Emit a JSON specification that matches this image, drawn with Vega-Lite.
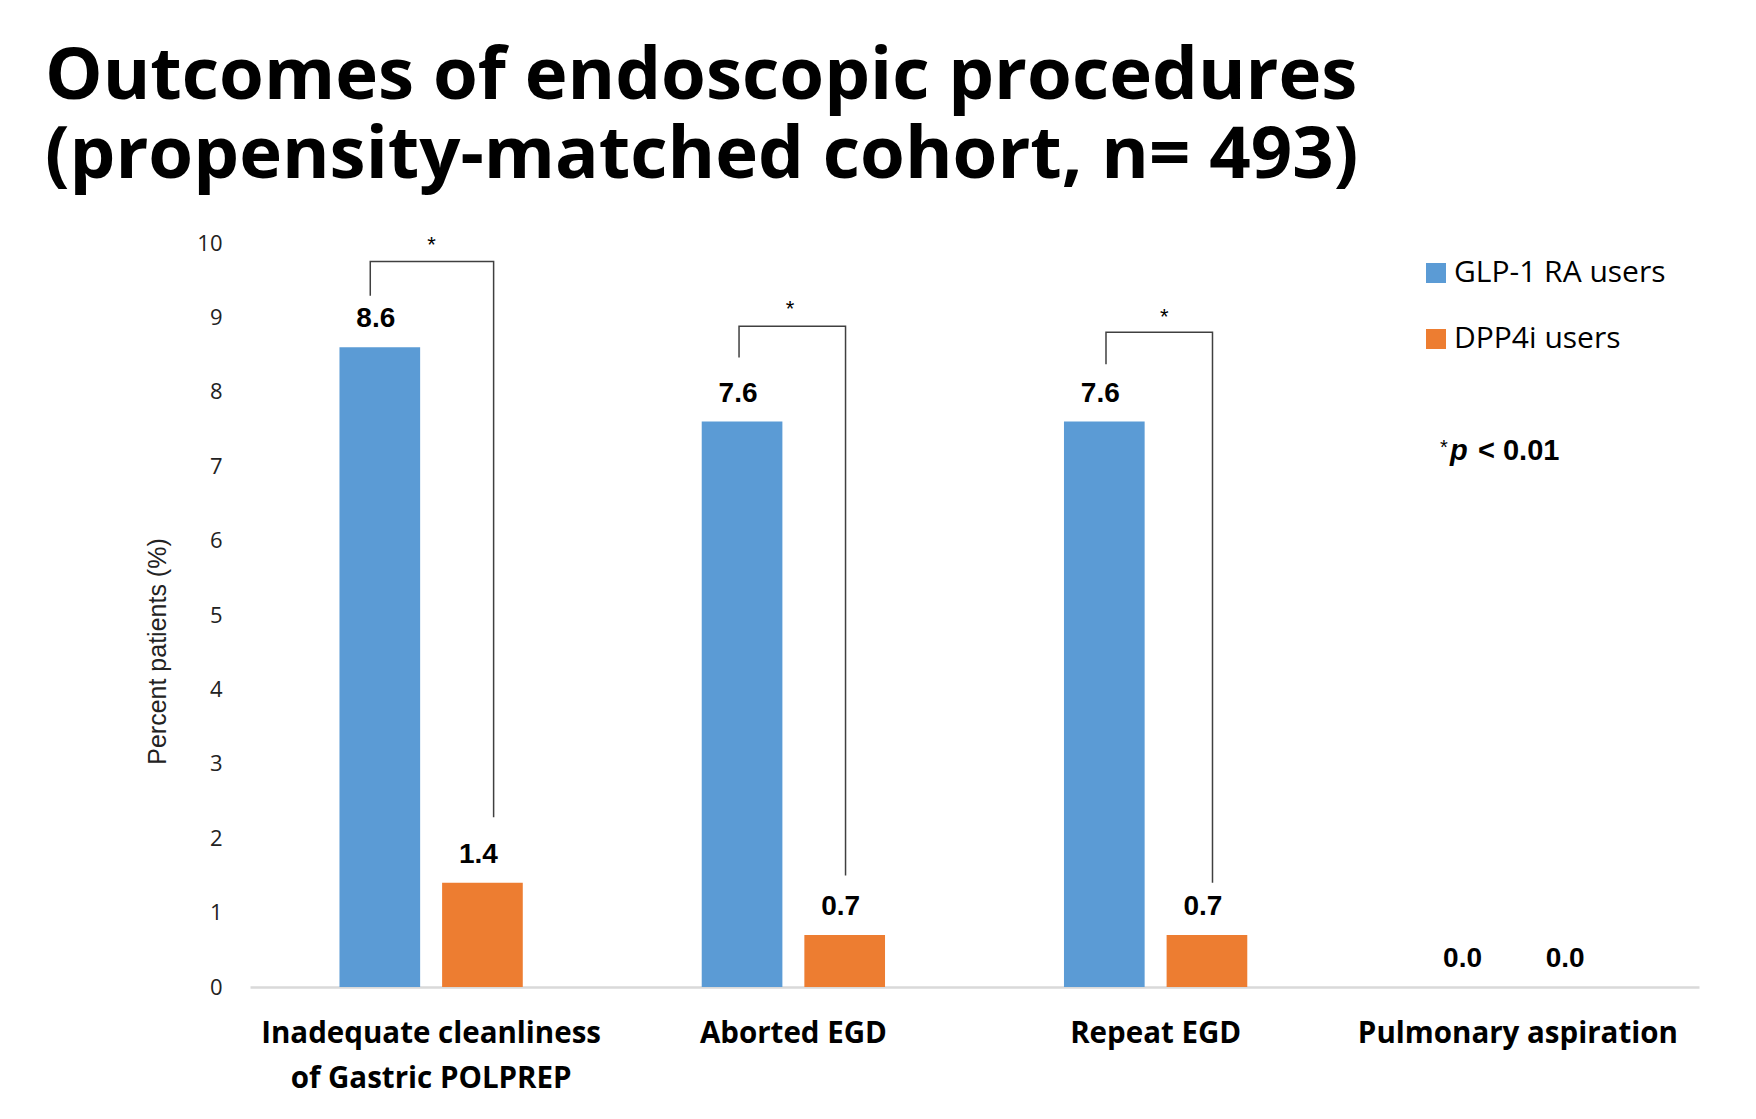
{
  "$schema": "https://vega.github.io/schema/vega-lite/v6.json",
  "width": 1449,
  "height": 744,
  "autosize": "none",
  "padding": {"left": 250, "top": 243, "right": 57, "bottom": 132},
  "background": "white",
  "title": {
    "text": ["Outcomes of endoscopic procedures", "(propensity-matched cohort, n= 493)"],
    "anchor": "start",
    "frame": "group",
    "font": "Open Sans",
    "fontWeight": "bold",
    "fontSize": 72.5,
    "lineHeight": 79,
    "color": "#000000",
    "dx": -205,
    "offset": 39
  },
  "config": {
    "view": {"stroke": null},
    "axis": {"grid": false, "ticks": false}
  },
  "datasets": {
    "bars": [
      {"outcome": "Inadequate cleanliness of Gastric POLPREP", "group": "GLP-1 RA users", "value": 8.6},
      {"outcome": "Inadequate cleanliness of Gastric POLPREP", "group": "DPP4i users", "value": 1.4},
      {"outcome": "Aborted EGD", "group": "GLP-1 RA users", "value": 7.6},
      {"outcome": "Aborted EGD", "group": "DPP4i users", "value": 0.7},
      {"outcome": "Repeat EGD", "group": "GLP-1 RA users", "value": 7.6},
      {"outcome": "Repeat EGD", "group": "DPP4i users", "value": 0.7},
      {"outcome": "Pulmonary aspiration", "group": "GLP-1 RA users", "value": 0.0},
      {"outcome": "Pulmonary aspiration", "group": "DPP4i users", "value": 0.0}
    ],
    "brackets": [
      {"bracket": "b1", "ord": 1, "bx": 0.332, "by": 9.29},
      {"bracket": "b1", "ord": 2, "bx": 0.332, "by": 9.75},
      {"bracket": "b1", "ord": 3, "bx": 0.6725, "by": 9.75},
      {"bracket": "b1", "ord": 4, "bx": 0.6725, "by": 2.28},
      {"bracket": "b2", "ord": 1, "bx": 1.350, "by": 8.46},
      {"bracket": "b2", "ord": 2, "bx": 1.350, "by": 8.88},
      {"bracket": "b2", "ord": 3, "bx": 1.644, "by": 8.88},
      {"bracket": "b2", "ord": 4, "bx": 1.644, "by": 1.50},
      {"bracket": "b3", "ord": 1, "bx": 2.363, "by": 8.37},
      {"bracket": "b3", "ord": 2, "bx": 2.363, "by": 8.80},
      {"bracket": "b3", "ord": 3, "bx": 2.657, "by": 8.80},
      {"bracket": "b3", "ord": 4, "bx": 2.657, "by": 1.40}
    ],
    "stars": [
      {"bx": 0.501, "by": 10.06, "label": "*"},
      {"bx": 1.491, "by": 9.20, "label": "*"},
      {"bx": 2.524, "by": 9.09, "label": "*"}
    ],
    "note": [
      {"bx": 3.285, "by": 7.09, "star": "*", "p": "p", "rest": "< 0.01"}
    ]
  },
  "resolve": {"scale": {"x": "independent"}, "axis": {"x": "independent"}},
  "layer": [
    {
      "data": {"name": "bars"},
      "encoding": {
        "x": {
          "field": "outcome",
          "type": "nominal",
          "sort": null,
          "scale": {"paddingInner": 0.494, "paddingOuter": 0.247},
          "axis": {
            "title": null,
            "domainColor": "#d9d9d9",
            "domainWidth": 2.5,
            "labelAngle": 0,
            "labelFont": "Open Sans",
            "labelFontWeight": "bold",
            "labelFontSize": 29.5,
            "labelColor": "#000000",
            "labelPadding": 32,
            "labelLineHeight": 45,
            "labelLimit": 0,
            "labelExpr": "datum.value == 'Inadequate cleanliness of Gastric POLPREP' ? ['Inadequate cleanliness', 'of Gastric POLPREP'] : datum.label"
          }
        },
        "xOffset": {
          "field": "group",
          "type": "nominal",
          "sort": ["GLP-1 RA users", "DPP4i users"],
          "scale": {"paddingInner": 0.214, "paddingOuter": 0}
        },
        "y": {
          "field": "value",
          "type": "quantitative",
          "title": "Percent patients (%)",
          "scale": {"domain": [0, 10], "nice": false},
          "axis": {
            "title": "Percent patients (%)",
            "values": [0, 1, 2, 3, 4, 5, 6, 7, 8, 9, 10],
            "format": "d",
            "domain": false,
            "labelFont": "Open Sans",
            "labelFontSize": 22,
            "labelColor": "#222222",
            "labelPadding": 28,
            "titleFont": "Liberation Sans",
            "titleFontWeight": "normal",
            "titleFontSize": 25,
            "titleColor": "#222222",
            "titlePadding": 26,
            "titleY": 408
          }
        }
      },
      "layer": [
        {
          "mark": {"type": "bar"},
          "encoding": {
            "color": {
              "field": "group",
              "type": "nominal",
              "scale": {"domain": ["GLP-1 RA users", "DPP4i users"], "range": ["#5B9BD5", "#ED7D31"]},
              "legend": {
                "title": null,
                "orient": "none",
                "legendX": 1171,
                "legendY": 15,
                "padding": 0,
                "symbolType": "square",
                "symbolSize": 400,
                "symbolStrokeWidth": 0,
                "labelFont": "Open Sans",
                "labelFontSize": 30,
                "labelColor": "#000000",
                "labelOffset": 3,
                "rowPadding": 36,
                "labelLimit": 0
              }
            }
          }
        },
        {
          "mark": {"type": "text", "font": "Liberation Sans", "fontWeight": "bold", "fontSize": 28, "color": "#000000", "baseline": "middle", "dy": -28, "dx": -4},
          "encoding": {
            "text": {"field": "value", "type": "quantitative", "format": ".1f"}
          }
        }
      ]
    },
    {
      "layer": [
        {
          "data": {"name": "brackets"},
          "mark": {"type": "line", "color": "#404040", "strokeWidth": 1.5},
          "encoding": {
            "x": {"field": "bx", "type": "quantitative", "scale": {"domain": [0, 4], "nice": false, "zero": false}, "axis": null},
            "y": {"field": "by", "type": "quantitative", "title": "Percent patients (%)"},
            "detail": {"field": "bracket"},
            "order": {"field": "ord", "type": "quantitative"}
          }
        },
        {
          "data": {"name": "stars"},
          "mark": {"type": "text", "font": "Liberation Sans", "fontSize": 22, "color": "#000000", "baseline": "alphabetic", "dy": 13},
          "encoding": {
            "x": {"field": "bx", "type": "quantitative", "scale": {"domain": [0, 4], "nice": false, "zero": false}, "axis": null},
            "y": {"field": "by", "type": "quantitative", "title": "Percent patients (%)"},
            "text": {"field": "label"}
          }
        },
        {
          "data": {"name": "note"},
          "encoding": {
            "x": {"field": "bx", "type": "quantitative", "scale": {"domain": [0, 4], "nice": false, "zero": false}, "axis": null},
            "y": {"field": "by", "type": "quantitative", "title": "Percent patients (%)"}
          },
          "layer": [
            {
              "mark": {"type": "text", "font": "Liberation Sans", "fontSize": 20, "color": "#000000", "align": "left", "baseline": "alphabetic", "dy": -6},
              "encoding": {"text": {"field": "star"}}
            },
            {
              "mark": {"type": "text", "font": "Liberation Sans", "fontSize": 29, "fontWeight": "bold", "fontStyle": "italic", "color": "#000000", "align": "left", "baseline": "alphabetic", "dx": 10},
              "encoding": {"text": {"field": "p"}}
            },
            {
              "mark": {"type": "text", "font": "Liberation Sans", "fontSize": 29, "fontWeight": "bold", "color": "#000000", "align": "left", "baseline": "alphabetic", "dx": 38},
              "encoding": {"text": {"field": "rest"}}
            }
          ]
        }
      ]
    }
  ]
}
